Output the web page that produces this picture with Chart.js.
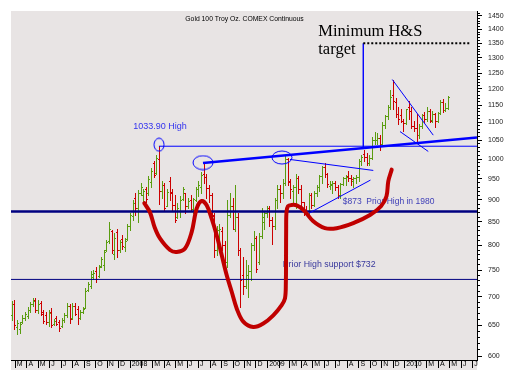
<!DOCTYPE html>
<html>
<head>
<meta charset="utf-8">
<script src="https://cdn.jsdelivr.net/npm/chart.js@4.4.1/dist/chart.umd.min.js"></script>
<style>
  html, body { margin: 0; padding: 0; background: #fff; }
  #wrap { width: 510px; height: 384px; }
</style>
</head>
<body>
<div id="wrap"><canvas id="gold" width="510" height="384"></canvas></div>
<script>
/* DATA: weekly bars, first one in the week of 19 Feb 2007 */
const firstWeek = "2007-02-21";

const opens = [
  668, 686, 647, 644, 656, 662, 666, 676, 687, 694,
  677, 688, 672, 668, 655, 673, 652, 663, 656, 648,
  659, 667, 683, 663, 684, 678, 662, 672, 680, 712,
  720, 736, 748, 738, 758, 760, 790, 808, 830, 782,
  828, 790, 812, 796, 812, 840, 862, 905, 880, 915,
  912, 925, 915, 942, 990, 965, 1000, 920, 935, 885,
  945, 915, 888, 860, 875, 902, 915, 885, 900, 878,
  900, 925, 930, 962, 955, 928, 912, 862, 790, 832,
  830, 800, 765, 865, 885, 835, 860, 790, 740, 720,
  740, 748, 800, 815, 765, 820, 850, 870, 880, 855,
  840, 900, 925, 915, 940, 1000, 945, 920, 930, 952,
  925, 895, 872, 868, 912, 887, 915, 930, 958, 979,
  962, 932, 935, 940, 930, 910, 938, 952, 958, 952,
  945, 953, 955, 996, 1012, 1005, 990, 1003, 1050, 1052,
  1056, 1041, 1093, 1118, 1145, 1180, 1160, 1125, 1120, 1105,
  1097, 1145, 1132, 1090, 1083, 1065, 1090, 1120, 1110, 1134,
  1106, 1125, 1105, 1126, 1160, 1137, 1142
];
const highs = [
  692, 694, 659, 656, 667, 673, 681, 690, 697, 697,
  694, 692, 676, 673, 677, 679, 660, 666, 659, 662,
  671, 688, 686, 688, 688, 683, 677, 681, 715, 728,
  749, 750, 755, 760, 776, 789, 811, 850, 832, 826,
  835, 811, 821, 814, 845, 870, 899, 915, 924, 939,
  925, 929, 957, 976, 995, 1010, 1033.9, 945, 939, 925,
  955, 926, 911, 892, 908, 931, 915, 904, 911, 905,
  930, 945, 968, 988, 962, 935, 915, 870, 840, 845,
  838, 808, 900, 915, 905, 935, 870, 795, 775, 770,
  760, 805, 830, 820, 825, 882, 875, 885, 885, 860,
  905, 935, 935, 950, 1007, 1002, 950, 935, 962, 958,
  935, 895, 885, 915, 915, 920, 935, 960, 982, 990,
  965, 945, 945, 945, 935, 940, 955, 960, 970, 960,
  955, 960, 1000, 1010, 1025, 1015, 1010, 1060, 1072, 1070,
  1065, 1100, 1122, 1150, 1196, 1227, 1172, 1145, 1140, 1110,
  1140, 1163, 1145, 1105, 1125, 1095, 1125, 1130, 1145, 1140,
  1133, 1128, 1130, 1165, 1170, 1155, 1178
];
const lows = [
  659, 643, 636, 637, 653, 659, 662, 673, 683, 673,
  671, 667, 654, 652, 649, 647, 650, 650, 641, 647,
  656, 664, 653, 660, 667, 652, 660, 671, 679, 711,
  715, 732, 728, 737, 756, 750, 788, 805, 783, 771,
  776, 786, 793, 788, 811, 832, 854, 865, 850, 911,
  893, 895, 912, 931, 955, 962, 890, 905, 876, 885,
  900, 875, 850, 858, 861, 899, 870, 880, 873, 870,
  896, 909, 915, 940, 905, 895, 855, 775, 780, 812,
  790, 740, 755, 860, 835, 830, 780, 681, 705, 715,
  700, 730, 790, 746, 762, 815, 835, 860, 840, 802,
  835, 880, 895, 905, 935, 935, 905, 890, 880, 915,
  880, 865, 865, 865, 880, 885, 908, 920, 940, 955,
  930, 925, 915, 922, 905, 905, 935, 935, 945, 935,
  930, 940, 945, 985, 995, 985, 985, 1000, 1040, 1040,
  1025, 1040, 1085, 1110, 1140, 1140, 1115, 1095, 1100, 1075,
  1095, 1110, 1085, 1075, 1045, 1055, 1085, 1100, 1105, 1100,
  1100, 1088, 1100, 1123, 1130, 1132, 1140
];
const closes = [
  686, 650, 653, 652, 663, 669, 677, 686, 692, 676,
  686, 670, 657, 655, 671, 650, 658, 652, 646, 659,
  668, 684, 660, 683, 670, 662, 673, 678, 710, 724,
  742, 745, 732, 755, 772, 785, 806, 835, 790, 815,
  790, 806, 798, 808, 840, 866, 892, 880, 915, 930,
  920, 902, 950, 970, 960, 1002, 920, 935, 880, 918,
  918, 888, 855, 880, 900, 925, 885, 898, 878, 902,
  925, 935, 960, 955, 928, 912, 865, 790, 832, 835,
  800, 765, 865, 885, 835, 860, 790, 730, 720, 740,
  748, 800, 815, 752, 820, 860, 870, 880, 855, 840,
  900, 925, 915, 940, 1000, 942, 925, 930, 952, 925,
  895, 870, 868, 912, 887, 915, 930, 958, 979, 962,
  938, 938, 940, 930, 910, 938, 952, 955, 952, 950,
  953, 955, 996, 1006, 1005, 990, 1003, 1050, 1052, 1056,
  1041, 1093, 1118, 1145, 1176, 1162, 1125, 1110, 1105, 1097,
  1138, 1132, 1090, 1083, 1065, 1090, 1120, 1110, 1134, 1104,
  1125, 1105, 1126, 1160, 1137, 1142, 1175
];

/* axis ticks */
const firstMonth = "2007-03-01";
const monthLabels = [
  "M", "A", "M", "J", "J", "A", "S", "O", "N", "D",
  "2008", "", "M", "A", "M", "J", "J", "A", "S", "O", "N", "D",
  "2009", "", "M", "A", "M", "J", "J", "A", "S", "O", "N", "D",
  "2010", "", "M", "A", "M", "J", "J"
];
const priceLabels = [600, 650, 700, 750, 800, 850, 900, 950, 1000, 1050,
  1100, 1150, 1200, 1250, 1300, 1350, 1400, 1450];

/* drawn-on analysis: [day since 1 Jan 2007, price] */
const necklinePts = [[558.8, 990], [1288.6, 1057.5]];
const high1033Pts = [[441.5, 1033.9], [1288.6, 1033.9]];
const prior873Pts = [[47.5, 873], [1288.6, 873]];
const support732Pts = [[47.5, 732], [1288.6, 732]];
const targetPts = [[985.7, 1350], [1270, 1350]];
const measurePts = [[985.7, 1350], [985.7, 1029]];
const triUpperPts = [[790.5, 999], [1012.4, 971]];
const triLowerPts = [[841.1, 869], [1004.9, 947]];
const flagUpperPts = [[1063, 1229], [1172, 1064]];
const flagLowerPts = [[1083.5, 1074], [1158.8, 1020]];
const ellipsePts = [[441.7, 1038], [558.8, 991], [769.2, 1004]];
const hsCurvePts = [
  [402.5, 892], [417.7, 871], [430, 838], [444.3, 814], [471, 790], [488.8, 786],
  [510.9, 793], [528.8, 828], [542.1, 880], [555.4, 897], [568.7, 887], [582, 857],
  [595.3, 821], [608.6, 780], [622, 740], [635.3, 709], [648.6, 679], [666.2, 656],
  [692.8, 647], [719.4, 653], [746, 667], [768.4, 685], [777.2, 697], [779.5, 725],
  [780, 778], [780.3, 832], [781.2, 871], [785.2, 885], [795.1, 888], [808.4, 887],
  [826, 877], [852.6, 851], [883.7, 836], [914.9, 836], [959.1, 847], [1003.6, 865],
  [1032.9, 885], [1047.5, 908], [1052.3, 944], [1061.4, 973]
];

const notes = [
  { text: "Gold 100 Troy Oz. COMEX Continuous", x: 669.4, y: 1432, align: "center", font: '6.8px "Liberation Sans"', color: "#000" },
  { text: "Minimum H&S", x: 865.9, y: 1375.6, font: '16.5px "Liberation Serif"', color: "#000" },
  { text: "target", x: 865.9, y: 1314.6, font: '16.5px "Liberation Serif"', color: "#000" },
  { text: "1033.90 High", x: 373.2, y: 1082, font: '9px "Liberation Sans"', color: "#3333ee" },
  { text: "$873  Prior High in 1980", x: 930.9, y: 890.5, font: '8.5px "Liberation Sans"', color: "#4040b8" },
  { text: "Prior High support $732", x: 771.1, y: 755.7, font: '8.8px "Liberation Sans"', color: "#38389c" }
];

/* HELPERS */
const DAY = 86400000;
const epoch = Date.UTC(2007, 0, 1);
const dayOf = (s) => (Date.parse(s + "T00:00:00Z") - epoch) / DAY;

const start = dayOf(firstWeek);
const bars = highs.map((h, i) => ({ x: start + 7 * i, y: [lows[i], h] }));
const barColors = closes.map((c, i) => (c >= opens[i] ? "#5a9c10" : "#cc0000"));

const m0 = new Date(firstMonth + "T00:00:00Z");
const monthTicks = monthLabels.map((_, i) =>
  (Date.UTC(m0.getUTCFullYear(), m0.getUTCMonth() + i, 1) - epoch) / DAY);

const minorTicks = [];
for (let v = 600; v <= 1460; v += 10) minorTicks.push(v);

const xMin = 47.5, xMax = 1288.6, yMin = 594, yMax = 1468;

const pts = (arr) => arr.map(([x, y]) => ({ x, y }));

function lineSet(arr, color, width, order, extra) {
  return Object.assign({
    type: "line", data: pts(arr), borderColor: color, borderWidth: width,
    pointRadius: 0, fill: false, tension: 0, order
  }, extra || {});
}

function ellipseMark(w, h) {
  const c = document.createElement("canvas");
  c.width = w + 2; c.height = h + 2;
  const g = c.getContext("2d");
  g.strokeStyle = "#0000ff"; g.lineWidth = 1;
  g.beginPath();
  g.ellipse(c.width / 2, c.height / 2, w / 2, h / 2, 0, 0, Math.PI * 2);
  g.stroke();
  return c;
}

/* PLUGINS */
const plotBackground = {
  id: "plotBackground",
  beforeDraw(chart) {
    const { ctx, chartArea: a } = chart;
    ctx.save();
    ctx.fillStyle = "#e8e4e4";
    ctx.fillRect(a.left, a.top, a.right - a.left, a.bottom - a.top + 10);
    ctx.restore();
  },
  beforeDatasetsDraw(chart) {
    const { ctx, scales } = chart;
    ctx.save();
    notes.forEach(n => {
      ctx.font = n.font;
      ctx.fillStyle = n.color;
      ctx.textAlign = n.align || "left";
      ctx.textBaseline = "alphabetic";
      ctx.fillText(n.text, scales.x.getPixelForValue(n.x), scales.y.getPixelForValue(n.y));
    });
    ctx.restore();
  }
};

/* OHLC: high-low stick from the bar element, open tick left, close tick right */
const ohlcBars = {
  id: "ohlcBars",
  beforeDatasetDraw(chart, args) {
    if (args.meta.type !== "bar") return;
    const { ctx, chartArea: a } = chart;
    const y = chart.scales.y;
    ctx.save();
    ctx.beginPath();
    ctx.rect(a.left, a.top, a.right - a.left, a.bottom - a.top);
    ctx.clip();
    args.meta.data.forEach((bar, i) => {
      const xi = Math.floor(bar.x);
      const top = Math.round(Math.min(bar.y, bar.base));
      const bot = Math.round(Math.max(bar.y, bar.base));
      ctx.fillStyle = bar.options.backgroundColor;
      ctx.fillRect(xi, top, 1, bot - top + 1);
      ctx.fillRect(xi - 1, Math.round(y.getPixelForValue(opens[i])), 1, 1);
      ctx.fillRect(xi + 1, Math.round(y.getPixelForValue(closes[i])), 1, 1);
    });
    ctx.restore();
    return false;
  }
};

/* CHART */
new Chart(document.getElementById("gold"), {
  type: "line",
  data: {
    datasets: [
      { type: "bar", label: "Gold", data: bars, backgroundColor: barColors, barThickness: 1, order: 100 },
      lineSet(support732Pts, "#000080", 1, 60),
      lineSet(prior873Pts, "#000080", 2.6, 59),
      lineSet(high1033Pts, "#0000ff", 1, 58),
      lineSet(triUpperPts, "#0000ff", 1, 57),
      lineSet(triLowerPts, "#0000ff", 1, 56),
      lineSet(flagUpperPts, "#0000ff", 1, 55),
      lineSet(flagLowerPts, "#0000ff", 1, 54),
      lineSet(measurePts, "#0000ff", 1.4, 53),
      lineSet(targetPts, "#000000", 2, 52, { borderDash: [2, 2] }),
      lineSet(necklinePts, "#0000ff", 2.5, 51),
      lineSet(ellipsePts, "#0000ff", 1, 50, {
        showLine: false, pointRadius: 6,
        pointStyle: [ellipseMark(10, 13), ellipseMark(20, 14), ellipseMark(20, 13)]
      }),
      lineSet(hsCurvePts, "#c00000", 4, 10, { tension: 0.35, borderCapStyle: "round", borderJoinStyle: "round" })
    ]
  },
  options: {
    responsive: false,
    animation: false,
    devicePixelRatio: 1,
    layout: { padding: { left: 11, top: 11, right: 0, bottom: 0 } },
    plugins: { legend: { display: false }, tooltip: { enabled: false }, title: { display: false } },
    scales: {
      x: {
        type: "linear", min: xMin, max: xMax, offset: false, bounds: "data",
        afterFit(s) { s.height = 24; },
        afterBuildTicks(s) { s.ticks = monthTicks.map(v => ({ value: v })); },
        grid: { drawOnChartArea: false, drawTicks: true, tickLength: 8, tickColor: "#000", offset: false },
        border: { display: true, color: "#000", width: 1 },
        ticks: {
          autoSkip: false, maxRotation: 0, minRotation: 0, align: "start", labelOffset: 1.5,
          padding: -8, color: "#000", font: { family: "Liberation Sans", size: 7 },
          callback: (v, i) => monthLabels[i]
        }
      },
      yMinor: {
        type: "logarithmic", position: "right", min: yMin, max: yMax, weight: 0, bounds: "data",
        afterFit(s) { s.width = 0; },
        afterBuildTicks(s) { s.ticks = minorTicks.map(v => ({ value: v })); },
        grid: { drawOnChartArea: false, tickLength: 3, tickColor: "#000" },
        border: { display: false },
        ticks: { display: false }
      },
      y: {
        type: "logarithmic", position: "right", min: yMin, max: yMax, weight: 1, bounds: "data",
        afterFit(s) { s.width = 33; },
        afterBuildTicks(s) { s.ticks = priceLabels.map(v => ({ value: v })); },
        grid: { drawOnChartArea: false, tickLength: 5, tickColor: "#000" },
        border: { display: true, color: "#000", width: 1 },
        ticks: {
          padding: 6, color: "#222", font: { family: "Liberation Sans", size: 7 },
          callback: v => String(v)
        }
      }
    }
  },
  plugins: [plotBackground, ohlcBars]
});
</script>
</body>
</html>
